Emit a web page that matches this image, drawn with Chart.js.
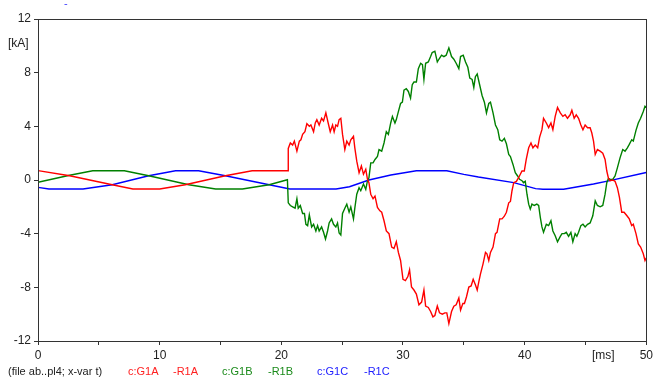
<!DOCTYPE html>
<html>
<head>
<meta charset="utf-8">
<script src="https://cdn.jsdelivr.net/npm/chart.js@4/dist/chart.umd.min.js"></script>
<style>
  html, body { margin: 0; padding: 0; background: #fff; }
  #wrap { position: relative; width: 656px; height: 381px; overflow: hidden; font-family: "Liberation Sans", Arial, sans-serif; }
  canvas { position: absolute; left: 0; top: 0; }
  .t { position: absolute; white-space: nowrap; line-height: 1; }
</style>
</head>
<body>
<div id="wrap">
  <canvas id="c" width="656" height="381"></canvas>
  <span class="t" style="left:64px;top:-2px;font-size:11px;color:#4040ff;">-</span>
  <span class="t" style="left:8px;top:37px;font-size:12px;color:#222;">[kA]</span>
  <span class="t" style="left:592px;top:349px;font-size:12px;color:#222;">[ms]</span>
  <span class="t" style="left:8px;top:366px;font-size:11px;color:#222;">(file ab..pl4; x-var t)</span>
  <span class="t" style="left:128px;top:366px;font-size:11px;color:#ff2020;">c:G1A</span>
  <span class="t" style="left:173px;top:366px;font-size:11px;color:#ff2020;">-R1A</span>
  <span class="t" style="left:222px;top:366px;font-size:11px;color:#1a8a1a;">c:G1B</span>
  <span class="t" style="left:268px;top:366px;font-size:11px;color:#1a8a1a;">-R1B</span>
  <span class="t" style="left:317px;top:366px;font-size:11px;color:#2020ff;">c:G1C</span>
  <span class="t" style="left:364px;top:366px;font-size:11px;color:#2020ff;">-R1C</span>
</div>
<script>
// ---- Data (time in ms, current in kA) ----
const xTickValues = [0, 10, 20, 30, 40, 50];
const yTickValues = [-12, -8, -4, 0, 4, 8, 12];

const redT = [0, 2.6, 6.1, 7.8, 10, 12.1, 15.4, 17.6, 20.55,
  20.57, 20.74, 20.93, 21.07, 21.28, 21.48, 21.61, 21.75, 21.94, 22.10, 22.30, 22.43, 22.65, 22.79, 22.92,
  23.11, 23.31, 23.47, 23.66, 23.85, 24.02, 24.21, 24.34, 24.48, 24.62, 24.75, 24.89, 25.03, 25.22, 25.38,
  25.57, 25.71, 25.93, 26.04, 26.20, 26.39, 26.58, 26.75, 26.94, 27.08, 27.2,
  27.35, 27.54, 27.7, 27.9, 28.1, 28.25, 28.44, 28.63, 28.85, 29.07, 29.26, 29.45, 29.62, 29.8, 30.0,
  30.2, 30.4, 30.54, 30.7, 30.9, 31.1, 31.31, 31.53, 31.72, 31.86, 32.08, 32.27, 32.46, 32.62, 32.82,
  33.0, 33.23, 33.44, 33.6, 33.77, 33.99, 34.18, 34.37, 34.59, 34.73, 34.92,
  35.05, 35.22, 35.41, 35.6, 35.77, 35.95, 36.1, 36.23, 36.37, 36.58, 36.78, 36.9, 37.05, 37.19, 37.4,
  37.6, 37.73, 37.95, 38.14, 38.33, 38.5, 38.69, 38.83, 38.96, 39.1, 39.32, 39.5, 39.78, 39.97, 40.13,
  40.33, 40.52, 40.68, 40.87, 41.07, 41.23, 41.42, 41.55,
  41.78, 41.97, 42.16, 42.32, 42.51, 42.7, 42.93, 43.14, 43.33, 43.52, 43.74, 43.88, 44.07, 44.24, 44.43,
  44.62, 44.79, 44.97, 45.17, 45.38, 45.52, 45.66, 45.8, 45.98, 46.2, 46.42, 46.61, 46.75, 46.89, 47.02,
  47.24, 47.43, 47.62, 47.79, 47.98, 48.17, 48.39, 48.6, 48.8, 48.93, 49.15, 49.34, 49.53, 49.75, 49.89, 50.0];
const redV = [0.7, 0.32, -0.35, -0.67, -0.67, -0.35, 0.32, 0.69, 0.69,
  2.35, 2.76, 2.6, 2.9, 2.15, 2.9, 3.0, 3.4, 3.6, 4.2, 4.0, 4.1, 3.6, 4.25, 4.5,
  4.1, 4.6, 4.4, 5.0, 4.25, 3.6, 4.1, 3.6, 4.1, 4.0, 4.5, 4.6, 3.4, 2.27, 2.9,
  2.6, 3.0, 3.26, 2.4, 1.4, 0.54, 1.05, 0.43, 0.8, 0.05, -0.2,
  -1.06, -1.4, -1.2, -2.05, -2.3, -2.4, -3.04, -3.8, -4.0, -5.0, -5.1, -4.6, -5.4, -6.0, -7.4,
  -7.5, -7.2, -6.7, -7.98, -8.2, -8.5, -9.3, -9.1, -8.2, -9.4, -9.5, -9.8, -10.2, -10.1, -9.4,
  -9.9, -10.0, -9.9, -9.9, -10.7, -9.8, -9.4, -9.3, -8.8, -9.7, -9.2,
  -9.2, -8.7, -7.98, -7.9, -7.4, -7.8, -8.2, -7.6, -7.0, -6.25, -5.4, -5.5, -6.0, -5.4, -5.0,
  -4.0, -3.9, -2.9, -2.9, -2.7, -2.4, -1.7, -1.6, -0.8, -0.2, -0.1, 0.17, 0.67, 0.67, 1.53,
  2.4, 2.76, 2.4, 2.6, 2.4, 3.2, 3.75, 4.6,
  4.25, 3.9, 4.25, 3.75, 4.74, 5.4, 5.0, 4.74, 4.86, 4.6, 4.86, 5.2, 4.6, 4.86, 4.6,
  4.1, 3.75, 4.1, 3.9, 3.9, 3.5, 2.9, 1.9, 2.27, 2.15, 2.0, 1.53, 0.67, 0.12, -0.05,
  0.0, -0.1, -0.57, -1.3, -2.4, -2.4, -2.65, -2.9, -3.4, -3.3, -4.0, -4.76, -5.0, -5.5, -6.0, -5.8];

const greenT = [0, 2.6, 4.5, 7.1, 9.1, 12.4, 14.6, 16.8, 19, 20.5,
  20.57, 20.74, 20.93, 21.13, 21.28, 21.39, 21.56, 21.75, 21.9, 22.02, 22.16, 22.3, 22.49, 22.65, 22.84,
  22.98, 23.11, 23.31, 23.47, 23.63, 23.8, 23.93, 24.13, 24.29, 24.48, 24.62, 24.75, 24.89, 25.03, 25.22,
  25.38, 25.57, 25.71, 25.93, 26.04, 26.2, 26.39, 26.53, 26.75, 26.94, 27.08, 27.2,
  27.35, 27.54, 27.7, 27.9, 28.03, 28.25, 28.44, 28.63, 28.8, 28.99, 29.13, 29.34, 29.45, 29.62, 29.8,
  29.95, 30.08, 30.27, 30.44, 30.62, 30.76, 30.9, 31.1, 31.26, 31.45, 31.6, 31.72, 31.86, 32.08, 32.27,
  32.4, 32.62, 32.82, 32.95, 33.17, 33.36, 33.55, 33.77, 33.99, 34.18, 34.37, 34.59, 34.73, 34.95,
  35.14, 35.33, 35.49, 35.68, 35.82, 35.95, 36.1, 36.3, 36.5, 36.69, 36.86, 37.05, 37.19, 37.4, 37.6,
  37.79, 37.95, 38.14, 38.33, 38.5, 38.69, 38.83, 39.04, 39.23, 39.42, 39.58, 39.78, 39.9, 40.05, 40.19,
  40.33, 40.46, 40.6, 40.79, 41.0, 41.15, 41.29, 41.42, 41.55,
  41.78, 41.97, 42.16, 42.32, 42.51, 42.7, 42.93, 43.07, 43.26, 43.42, 43.61, 43.8, 43.96, 44.15, 44.29,
  44.43, 44.62, 44.79, 44.97, 45.17, 45.38, 45.6, 45.8, 45.98, 46.2, 46.42, 46.61, 46.75, 46.89, 47.02,
  47.24, 47.43, 47.62, 47.84, 48.06, 48.25, 48.44, 48.6, 48.8, 48.93, 49.15, 49.34, 49.53, 49.75, 49.89, 50.0];
const greenV = [-0.17, 0.35, 0.69, 0.69, 0.32, -0.35, -0.67, -0.67, -0.35, 0.02,
  -1.7, -1.9, -2.0, -2.1, -1.4, -2.1, -1.9, -2.5, -2.5, -3.3, -3.4, -2.6, -3.5, -3.3, -3.8,
  -3.4, -3.8, -3.5, -3.9, -4.4, -3.8, -3.2, -2.9, -3.3, -3.5, -3.2, -3.95, -4.1, -2.5, -2.1,
  -1.8, -2.4, -2.0, -2.9, -2.1, -1.06, -0.57, -0.8, -0.3, -0.7, -0.05, 0.17,
  1.28, 1.28, 1.53, 1.75, 2.27, 2.15, 2.76, 3.6, 3.4, 4.25, 4.74, 4.25, 4.5, 5.1, 5.7,
  5.8, 6.7, 6.8, 6.6, 6.1, 7.1, 7.3, 7.3, 8.3, 8.7, 8.6, 7.5, 8.7, 8.8, 9.2,
  9.5, 9.6, 8.8, 9.0, 9.3, 9.2, 9.3, 9.85, 9.2, 9.0, 8.7, 8.3, 9.2, 9.3,
  8.8, 8.4, 7.6, 7.5, 6.9, 7.7, 7.9, 7.1, 6.3, 5.8, 5.0, 5.7, 5.8, 5.0, 4.1,
  3.75, 3.0, 2.9, 3.1, 2.7, 1.9, 1.75, 1.16, 0.54, 0.3, 0.05, -0.05, -0.2, -0.1, -1.06,
  -1.8, -2.17, -1.8, -1.9, -1.8, -1.9, -2.8, -3.5, -3.9,
  -3.3, -3.4, -3.04, -3.8, -4.15, -4.6, -4.2, -4.0, -4.0, -3.9, -4.2, -3.9, -4.6, -4.0, -4.2,
  -3.9, -3.4, -3.3, -3.5, -3.3, -3.2, -2.67, -1.56, -1.9, -2.0, -1.9, -1.06, -0.2, 0.12, 0.05,
  0.05, 0.3, 0.9, 1.65, 2.27, 2.15, 2.4, 2.65, 3.0, 2.9, 3.7, 4.25, 4.6, 5.1, 5.5, 5.4];

const blueT = [0, 0.9, 3.7, 6.1, 9.1, 11.3, 13.2, 15.4, 19, 20.7, 24.5, 25.6, 27.2, 29, 31.1, 33.6, 35,
  36.2, 39.1, 40.9, 41.5, 43.2, 45.66, 47, 49.9, 50];
const blueV = [-0.55, -0.67, -0.67, -0.35, 0.32, 0.69, 0.69, 0.32, -0.35, -0.67, -0.67, -0.5, 0, 0.37, 0.69, 0.69, 0.42,
  0.22, -0.2, -0.64, -0.69, -0.69, -0.3, -0.05, 0.54, 0.56];

function pts(ts, vs) { return ts.map((t, i) => ({ x: t, y: vs[i] })); }

const boxPlugin = {
  id: 'box',
  afterDraw(chart) {
    const a = chart.chartArea, ctx = chart.ctx;
    ctx.save();
    ctx.strokeStyle = '#333';
    ctx.lineWidth = 1;
    ctx.strokeRect(Math.round(a.left) + 0.5, Math.round(a.top) + 0.5, Math.round(a.right - a.left), Math.round(a.bottom - a.top));
    ctx.restore();
  }
};

new Chart(document.getElementById('c'), {
  type: 'line',
  data: {
    datasets: [
      { label: 'c:G1A -R1A', data: pts(redT, redV), borderColor: '#ff0000', borderWidth: 1.4, pointRadius: 0, tension: 0, fill: false },
      { label: 'c:G1B -R1B', data: pts(greenT, greenV), borderColor: '#008000', borderWidth: 1.4, pointRadius: 0, tension: 0, fill: false },
      { label: 'c:G1C -R1C', data: pts(blueT, blueV), borderColor: '#0000ff', borderWidth: 1.4, pointRadius: 0, tension: 0, fill: false }
    ]
  },
  options: {
    responsive: false,
    animation: false,
    devicePixelRatio: 1,
    layout: { padding: { left: 0, top: 19, right: 6, bottom: 0 } },
    plugins: { legend: { display: false }, tooltip: { enabled: false } },
    scales: {
      x: {
        type: 'linear', min: 0, max: 50,
        afterFit: s => { s.height = 40; },
        afterBuildTicks: s => { s.ticks = [0,5,10,15,20,25,30,35,40,45,50].map(v => ({ value: v })); },
        ticks: {
          autoSkip: false, maxRotation: 0, padding: 3, color: '#222',
          font: { family: '"Liberation Sans", Arial, sans-serif', size: 12 },
          callback: v => xTickValues.includes(v) ? String(v) : ''
        },
        grid: { drawOnChartArea: false, drawTicks: true, tickLength: 4, tickColor: '#333' },
        border: { color: '#333', width: 1 }
      },
      y: {
        type: 'linear', min: -12, max: 12,
        afterFit: s => { s.width = 38; },
        afterBuildTicks: s => { s.ticks = yTickValues.map(v => ({ value: v })); },
        ticks: {
          autoSkip: false, padding: 3, color: '#222',
          font: { family: '"Liberation Sans", Arial, sans-serif', size: 12 }
        },
        grid: { drawOnChartArea: false, drawTicks: true, tickLength: 4, tickColor: '#333' },
        border: { color: '#333', width: 1 }
      }
    }
  },
  plugins: [boxPlugin]
});
</script>
</body>
</html>
